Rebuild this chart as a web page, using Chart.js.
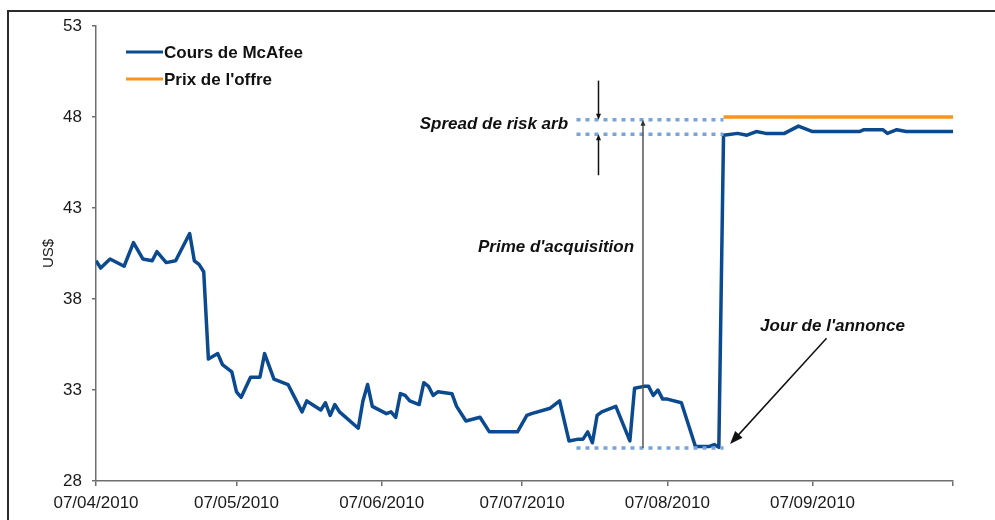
<!DOCTYPE html>
<html lang="fr">
<head>
    <meta charset="UTF-8">
    <title>Cours de McAfee</title>
    <script src="https://cdn.jsdelivr.net/npm/chart.js"></script>
    <style>
        body {
            margin: 0;
            background: #fff;
        }
        #wrap {
            position: relative;
            width: 995px;
            height: 520px;
            overflow: hidden;
        }
        #frame {
            position: absolute;
            left: 7px;
            top: 10px;
            width: 1000px;
            height: 520px;
            border-top: 2px solid #2b2b2b;
            border-left: 2px solid #2b2b2b;
        }
        #mcafeeChart {
            position: absolute;
            left: 0;
            top: 0;
        }
    </style>
</head>
<body>
<div id="wrap">
    <div id="frame"></div>
    <canvas id="mcafeeChart" width="995" height="520"></canvas>
</div>
<script>
    // jours depuis le 07/04/2010
    const days = [0, 1, 3, 6, 8, 10, 12, 13, 15, 17, 20, 21, 22, 23, 24, 26, 27, 29, 30, 31,
        33, 35, 36, 38, 41, 42, 44, 45, 48, 49, 50, 51, 52, 56, 57, 58, 59, 62, 63, 64,
        65, 66, 67, 69, 70, 71, 72, 73, 76, 77, 79, 82, 84, 90, 92, 93, 97, 99, 101, 103,
        104, 105, 106, 107, 108, 111, 114, 115, 117, 118, 119, 120, 121, 122, 125, 128, 131, 132, 133, 134,
        137, 139, 141, 143, 147, 150, 153, 163, 164, 168, 169, 171, 173, 183];
    const mcafee = [40.1, 39.7, 40.2, 39.8, 41.1, 40.2, 40.1, 40.6, 40.0, 40.1, 41.6, 40.1, 39.9, 39.5, 34.7, 35.0, 34.4, 34.0, 32.9, 32.6,
        33.7, 33.7, 35.0, 33.6, 33.3, 32.8, 31.8, 32.4, 31.9, 32.3, 31.6, 32.2, 31.8, 30.9, 32.4, 33.3, 32.1, 31.7, 31.8, 31.5,
        32.8, 32.7, 32.4, 32.2, 33.4, 33.2, 32.7, 32.9, 32.8, 32.1, 31.3, 31.5, 30.7, 30.7, 31.6, 31.7, 32.0, 32.4, 30.2, 30.3,
        30.3, 30.7, 30.1, 31.6, 31.8, 32.1, 30.2, 33.1, 33.2, 33.2, 32.7, 33.0, 32.5, 32.5, 32.3, 29.9, 29.9, 30.0, 29.85, 47.0,
        47.1, 47.0, 47.2, 47.1, 47.1, 47.5, 47.2, 47.2, 47.3, 47.3, 47.1, 47.3, 47.2, 47.2];
    const offerDays = [134, 183];
    const offerPrice = [48, 48];

    const tickDays = [0, 30, 61, 91, 122, 153, 183];
    const tickLabels = ['07/04/2010', '07/05/2010', '07/06/2010', '07/07/2010', '07/08/2010', '07/09/2010', ''];

    const seriesNames = ['Cours de McAfee', "Prix de l'offre"];
    const blue = '#0b4a8f';
    const orange = '#f7941d';

    const FONT = '"Liberation Sans", Arial, sans-serif';

    function arrow(ctx, x1, y1, x2, y2, headLen, headW) {
        const a = Math.atan2(y2 - y1, x2 - x1);
        ctx.beginPath();
        ctx.moveTo(x1, y1);
        ctx.lineTo(x2 - Math.cos(a) * headLen * 0.8, y2 - Math.sin(a) * headLen * 0.8);
        ctx.stroke();
        ctx.beginPath();
        ctx.moveTo(x2, y2);
        ctx.lineTo(x2 - Math.cos(a) * headLen + Math.sin(a) * headW / 2, y2 - Math.sin(a) * headLen - Math.cos(a) * headW / 2);
        ctx.lineTo(x2 - Math.cos(a) * headLen - Math.sin(a) * headW / 2, y2 - Math.sin(a) * headLen + Math.cos(a) * headW / 2);
        ctx.closePath();
        ctx.fill();
    }

    // annotations + legende
    const notes = {
        id: 'notes',
        afterDatasetsDraw(chart) {
            const ctx = chart.ctx;
            const x = chart.scales.x, y = chart.scales.y;
            const X = v => x.getPixelForValue(v), Y = v => y.getPixelForValue(v);
            ctx.save();

            // lignes pointillees
            ctx.strokeStyle = '#7ba3d6';
            ctx.lineWidth = 3.5;
            ctx.setLineDash([4, 5]);
            [47.85, 47.05, 29.82].forEach(v => {
                ctx.beginPath();
                ctx.moveTo(X(102.6), Y(v));
                ctx.lineTo(X(134), Y(v));
                ctx.stroke();
            });
            ctx.setLineDash([]);

            // prime d'acquisition
            ctx.strokeStyle = '#555';
            ctx.fillStyle = '#333';
            ctx.lineWidth = 1.5;
            arrow(ctx, X(116.8), Y(29.82), X(116.8), Y(47.85), 6, 5);

            // spread
            ctx.strokeStyle = '#111';
            ctx.fillStyle = '#111';
            arrow(ctx, X(107.3), Y(50.0), X(107.3), Y(47.85), 6, 5);
            arrow(ctx, X(107.3), Y(44.8), X(107.3), Y(47.05), 6, 5);

            // jour de l'annonce
            arrow(ctx, X(156), Y(35.84), X(135.4), Y(30.03), 13, 10);

            ctx.font = 'italic bold 17px ' + FONT;
            ctx.fillStyle = '#111';
            ctx.textBaseline = 'middle';
            ctx.textAlign = 'right';
            ctx.fillText('Spread de risk arb', X(100.8), Y(47.59));
            ctx.fillText("Prime d'acquisition", X(114.9), Y(40.86));
            ctx.textAlign = 'left';
            ctx.fillText("Jour de l'annonce", X(141.8), Y(36.52));

            // legende
            const lx = chart.chartArea.left + 30;
            const ly = chart.chartArea.top + 26;
            ctx.font = 'bold 17px ' + FONT;
            [blue, orange].forEach((c, i) => {
                ctx.strokeStyle = c;
                ctx.lineWidth = 3;
                ctx.beginPath();
                ctx.moveTo(lx, ly + i * 27);
                ctx.lineTo(lx + 37, ly + i * 27);
                ctx.stroke();
                ctx.fillStyle = '#111';
                ctx.fillText(seriesNames[i], lx + 38, ly + i * 27 + 1);
            });
            ctx.restore();
        }
    };

    new Chart(document.getElementById('mcafeeChart'), {
        type: 'line',
        data: {
            datasets: [{
                label: seriesNames[0],
                data: days.map((d, i) => ({x: d, y: mcafee[i]})),
                borderColor: blue,
                borderWidth: 3.5,
                borderJoinStyle: 'round',
                pointRadius: 0
            }, {
                label: seriesNames[1],
                data: offerDays.map((d, i) => ({x: d, y: offerPrice[i]})),
                borderColor: orange,
                borderWidth: 3.5,
                pointRadius: 0
            }]
        },
        options: {
            responsive: false,
            animation: false,
            layout: {padding: {top: 26, right: 42, left: 0, bottom: 0}},
            plugins: {legend: {display: false}, tooltip: {enabled: false}},
            scales: {
                x: {
                    type: 'linear',
                    min: 0,
                    max: 183,
                    afterBuildTicks: s => { s.ticks = tickDays.map(v => ({value: v})); },
                    afterFit: s => { s.height = 39; },
                    ticks: {
                        autoSkip: false,
                        maxRotation: 0,
                        padding: 7,
                        color: '#1a1a1a',
                        font: {family: FONT, size: 17},
                        callback: (v, i) => tickLabels[i]
                    },
                    grid: {drawOnChartArea: false, tickLength: 5, color: '#6e6e6e', lineWidth: 1.5},
                    border: {color: '#6e6e6e', width: 1.5}
                },
                y: {
                    min: 28,
                    max: 53,
                    afterFit: s => { s.width = 96; },
                    ticks: {
                        stepSize: 5,
                        padding: 10,
                        color: '#1a1a1a',
                        font: {family: FONT, size: 17}
                    },
                    grid: {drawOnChartArea: false, tickLength: 4, color: '#6e6e6e', lineWidth: 1.5},
                    border: {color: '#6e6e6e', width: 1.5},
                    title: {
                        display: true,
                        text: 'US$',
                        color: '#1a1a1a',
                        padding: {top: 40, bottom: 0},
                        font: {family: FONT, size: 15}
                    }
                }
            }
        },
        plugins: [notes]
    });
</script>
</body>
</html>
